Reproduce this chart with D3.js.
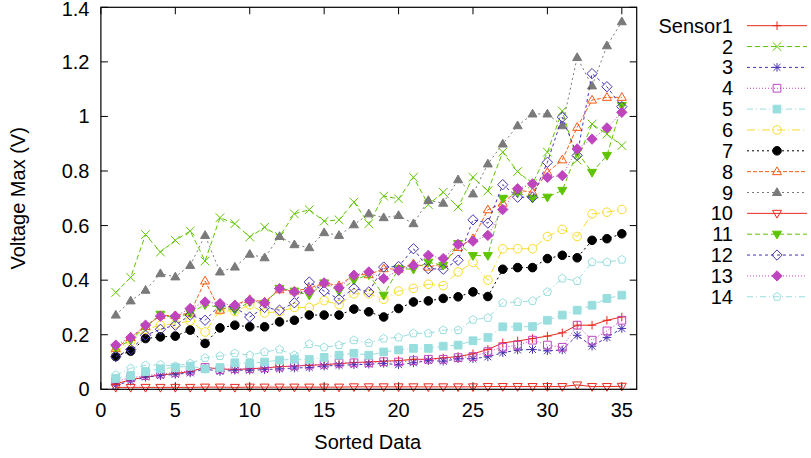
<!DOCTYPE html>
<html>
<head>
<meta charset="utf-8">
<script src="https://cdn.jsdelivr.net/npm/d3@7/dist/d3.min.js"></script>
<style>
  body { margin: 0; background: #fff; }
  svg text { font-family: 'Liberation Sans', Arial, sans-serif; font-size: 20px; fill: #000; }
</style>
</head>
<body>
<div id="chart"></div>
<script>
// sorted sample index 1..35
const positions = d3.range(1, 36);

const sensor1 = [0.02, 0.035, 0.045, 0.052, 0.058, 0.065, 0.08, 0.075, 0.072, 0.075, 0.078, 0.083, 0.085, 0.088, 0.09, 0.094, 0.098, 0.1, 0.103, 0.105, 0.11, 0.11, 0.115, 0.12, 0.13, 0.146, 0.17, 0.177, 0.186, 0.195, 0.207, 0.235, 0.235, 0.253, 0.265];
const sensor2 = [0.355, 0.41, 0.567, 0.503, 0.546, 0.58, 0.47, 0.629, 0.607, 0.558, 0.594, 0.56, 0.643, 0.658, 0.616, 0.621, 0.686, 0.607, 0.708, 0.698, 0.777, 0.677, 0.722, 0.668, 0.777, 0.727, 0.869, 0.798, 0.753, 0.869, 1.02, 0.84, 0.972, 0.935, 0.893];
const sensor3 = [0.015, 0.03, 0.045, 0.05, 0.055, 0.06, 0.075, 0.065, 0.07, 0.07, 0.072, 0.075, 0.078, 0.08, 0.085, 0.088, 0.09, 0.092, 0.095, 0.09, 0.097, 0.105, 0.103, 0.112, 0.112, 0.119, 0.134, 0.144, 0.146, 0.141, 0.144, 0.198, 0.158, 0.19, 0.223];
const sensor4 = [0.03, 0.042, 0.05, 0.056, 0.062, 0.067, 0.08, 0.072, 0.076, 0.076, 0.079, 0.082, 0.086, 0.089, 0.092, 0.096, 0.097, 0.097, 0.101, 0.1, 0.105, 0.11, 0.11, 0.116, 0.12, 0.138, 0.154, 0.162, 0.18, 0.162, 0.154, 0.235, 0.18, 0.214, 0.253];
const sensor5 = [0.04, 0.05, 0.065, 0.075, 0.08, 0.085, 0.075, 0.08, 0.097, 0.095, 0.1, 0.107, 0.11, 0.11, 0.117, 0.125, 0.132, 0.125, 0.137, 0.144, 0.15, 0.15, 0.158, 0.162, 0.178, 0.19, 0.229, 0.229, 0.23, 0.253, 0.272, 0.29, 0.308, 0.333, 0.345];
const sensor6 = [0.135, 0.175, 0.22, 0.235, 0.24, 0.25, 0.21, 0.29, 0.285, 0.31, 0.28, 0.285, 0.3, 0.3, 0.325, 0.31, 0.35, 0.35, 0.33, 0.36, 0.37, 0.385, 0.38, 0.43, 0.465, 0.4, 0.515, 0.515, 0.515, 0.56, 0.586, 0.56, 0.643, 0.649, 0.659];
const sensor7 = [0.12, 0.14, 0.186, 0.192, 0.195, 0.217, 0.168, 0.225, 0.235, 0.229, 0.229, 0.247, 0.253, 0.272, 0.272, 0.272, 0.294, 0.284, 0.265, 0.296, 0.32, 0.324, 0.333, 0.339, 0.357, 0.34, 0.44, 0.446, 0.446, 0.479, 0.491, 0.482, 0.546, 0.552, 0.57];
const sensor8 = [0.15, 0.19, 0.23, 0.27, 0.27, 0.28, 0.397, 0.29, 0.31, 0.329, 0.32, 0.365, 0.36, 0.37, 0.39, 0.38, 0.42, 0.42, 0.442, 0.44, 0.46, 0.448, 0.46, 0.52, 0.552, 0.658, 0.682, 0.73, 0.722, 0.795, 0.841, 0.96, 1.06, 1.07, 1.07];
const sensor9 = [0.272, 0.324, 0.363, 0.424, 0.412, 0.454, 0.564, 0.43, 0.448, 0.495, 0.482, 0.56, 0.53, 0.519, 0.574, 0.564, 0.603, 0.643, 0.629, 0.637, 0.607, 0.692, 0.682, 0.768, 0.716, 0.826, 0.899, 0.966, 1.009, 1.009, 0.966, 1.216, 1.112, 1.259, 1.347];
const sensor10 = [0.007, 0.007, 0.007, 0.007, 0.007, 0.007, 0.008, 0.008, 0.007, 0.008, 0.008, 0.008, 0.008, 0.008, 0.008, 0.008, 0.009, 0.009, 0.009, 0.009, 0.009, 0.009, 0.009, 0.009, 0.009, 0.01, 0.01, 0.01, 0.01, 0.01, 0.01, 0.016, 0.01, 0.01, 0.011];
const sensor11 = [0.15, 0.18, 0.23, 0.275, 0.26, 0.28, 0.31, 0.3, 0.29, 0.32, 0.315, 0.37, 0.36, 0.345, 0.39, 0.36, 0.4, 0.42, 0.345, 0.442, 0.44, 0.466, 0.454, 0.534, 0.49, 0.49, 0.7, 0.72, 0.7, 0.704, 0.729, 0.87, 0.795, 0.857, 1.04];
const sensor12 = [0.12, 0.146, 0.198, 0.22, 0.235, 0.272, 0.253, 0.308, 0.3, 0.265, 0.3, 0.29, 0.317, 0.393, 0.36, 0.33, 0.37, 0.357, 0.448, 0.45, 0.515, 0.442, 0.44, 0.473, 0.621, 0.609, 0.75, 0.704, 0.704, 0.832, 0.997, 0.857, 1.157, 1.109, 1.036];
const sensor13 = [0.162, 0.19, 0.235, 0.268, 0.268, 0.296, 0.32, 0.314, 0.308, 0.325, 0.317, 0.369, 0.357, 0.36, 0.39, 0.372, 0.418, 0.43, 0.406, 0.436, 0.454, 0.491, 0.479, 0.531, 0.543, 0.564, 0.659, 0.735, 0.753, 0.777, 0.783, 0.881, 0.917, 0.958, 1.015];
const sensor14 = [0.052, 0.077, 0.088, 0.09, 0.085, 0.095, 0.115, 0.122, 0.132, 0.125, 0.137, 0.146, 0.125, 0.166, 0.154, 0.162, 0.18, 0.17, 0.186, 0.19, 0.205, 0.205, 0.217, 0.217, 0.255, 0.262, 0.317, 0.32, 0.324, 0.357, 0.406, 0.397, 0.466, 0.466, 0.475];

const seriesNames = ['Sensor1', '2', '3', '4', '5', '6', '7', '8', '9', '10', '11', '12', '13', '14'];
const xTicks = [0, 5, 10, 15, 20, 25, 30, 35];
const yTicks = [0, 0.2, 0.4, 0.6, 0.8, 1, 1.2, 1.4];

const seriesValues = [sensor1, sensor2, sensor3, sensor4, sensor5, sensor6, sensor7,
  sensor8, sensor9, sensor10, sensor11, sensor12, sensor13, sensor14];

// gnuplot-ish line types
const colors = ['#e8281c', '#5fc400', '#4b32b4', '#bf45bf', '#99dede', '#f6dd2a', '#000000',
  '#f65a16', '#7a7a7a', '#e8281c', '#5fc400', '#4b32b4', '#bf45bf', '#99dede'];
const dashes = [null, '5,3', '3,3', '1,2', '6,3,1,3', '8,3,1,3', '2,3',
  '4,2', '2,3', null, '5,3', '3,3', '1,2', '6,3,1,3'];
const shapes = ['plus', 'cross', 'star', 'square', 'square', 'circle', 'circle',
  'triUp', 'triUp', 'triDown', 'triDown', 'diamond', 'diamond', 'pentagon'];
const filled = [false, false, false, false, true, false, true,
  false, true, false, true, false, true, false];

const width = 811;
const height = 458;
const plot = { left: 100.9, right: 636.7, top: 7.3, bottom: 389.3 };

const x = d3.scaleLinear().domain([0, 36]).range([plot.left, plot.right]);
const y = d3.scaleLinear().domain([0, 1.4]).range([plot.bottom, plot.top]);

const markerPath = (shape, r) => {
  switch (shape) {
    case 'plus': return `M${-r},0H${r}M0,${-r}V${r}`;
    case 'cross': return `M${-r},${-r}L${r},${r}M${-r},${r}L${r},${-r}`;
    case 'star': return `M${-r},0H${r}M0,${-r}V${r}M${-r * 0.8},${-r * 0.8}L${r * 0.8},${r * 0.8}M${-r * 0.8},${r * 0.8}L${r * 0.8},${-r * 0.8}`;
    case 'square': return `M${-r * 0.9},${-r * 0.9}H${r * 0.9}V${r * 0.9}H${-r * 0.9}Z`;
    case 'circle': {
      const p = d3.path();
      p.arc(0, 0, r, 0, 2 * Math.PI);
      p.closePath();
      return p.toString();
    }
    case 'triUp': return `M0,${-r * 1.1}L${r * 1.05},${r * 0.7}L${-r * 1.05},${r * 0.7}Z`;
    case 'triDown': return `M0,${r * 1.1}L${r * 1.05},${-r * 0.7}L${-r * 1.05},${-r * 0.7}Z`;
    case 'diamond': return `M0,${-r * 1.2}L${r * 1.2},0L0,${r * 1.2}L${-r * 1.2},0Z`;
    case 'pentagon': {
      const pts = d3.range(5).map(k => {
        const a = -Math.PI / 2 + k * 2 * Math.PI / 5;
        return [r * Math.cos(a), r * Math.sin(a)];
      });
      return `M${pts.map(p => p.join(',')).join('L')}Z`;
    }
    default: return '';
  }
};

const svg = d3.select('#chart').append('svg')
  .attr('width', width)
  .attr('height', height)
  .style('display', 'block');

svg.append('rect').attr('width', width).attr('height', height).attr('fill', '#fff');

// ticks (inward, mirrored)
const tickLen = 7;
const ticks = svg.append('g').attr('stroke', '#000').attr('stroke-width', 1);
xTicks.forEach(t => {
  ticks.append('line').attr('x1', x(t)).attr('x2', x(t)).attr('y1', plot.bottom).attr('y2', plot.bottom - tickLen);
  ticks.append('line').attr('x1', x(t)).attr('x2', x(t)).attr('y1', plot.top).attr('y2', plot.top + tickLen);
});
yTicks.forEach(t => {
  ticks.append('line').attr('x1', plot.left).attr('x2', plot.left + tickLen).attr('y1', y(t)).attr('y2', y(t));
  ticks.append('line').attr('x1', plot.right).attr('x2', plot.right - tickLen).attr('y1', y(t)).attr('y2', y(t));
});

svg.append('g').selectAll('text')
  .data(xTicks)
  .join('text')
    .attr('x', d => x(d))
    .attr('y', 417)
    .attr('text-anchor', 'middle')
    .text(d => d);

svg.append('g').selectAll('text')
  .data(yTicks)
  .join('text')
    .attr('x', 89.5)
    .attr('y', d => Math.max(y(d) + 7, 15.5))
    .attr('text-anchor', 'end')
    .text(d => d);

svg.append('text')
  .attr('x', 367.7)
  .attr('y', 449.3)
  .attr('text-anchor', 'middle')
  .text('Sorted Data');

svg.append('text')
  .attr('transform', `translate(25,${(plot.top + plot.bottom) / 2}) rotate(-90)`)
  .attr('text-anchor', 'middle')
  .text('Voltage Max (V)');

// series
const line = d3.line()
  .x((d, i) => x(positions[i]))
  .y(d => y(d));

const markerR = 4.3;

seriesValues.forEach((values, k) => {
  const g = svg.append('g');
  g.append('path')
    .datum(values)
    .attr('fill', 'none')
    .attr('stroke', colors[k])
    .attr('stroke-width', 1)
    .attr('stroke-dasharray', dashes[k])
    .attr('d', line);
  g.selectAll('path.pt')
    .data(values)
    .join('path')
      .attr('class', 'pt')
      .attr('transform', (d, i) => `translate(${x(positions[i])},${y(d)})`)
      .attr('d', markerPath(shapes[k], markerR))
      .attr('fill', filled[k] ? colors[k] : 'none')
      .attr('stroke', colors[k])
      .attr('stroke-width', 1);
});

// frame
svg.append('rect')
  .attr('x', plot.left)
  .attr('y', plot.top)
  .attr('width', plot.right - plot.left)
  .attr('height', plot.bottom - plot.top)
  .attr('fill', 'none')
  .attr('stroke', '#000')
  .attr('stroke-width', 1.2);

// legend
const legend = svg.append('g');
seriesNames.forEach((name, k) => {
  const ly = 25.7 + k * 20.85;
  legend.append('text')
    .attr('x', 733)
    .attr('y', ly + 7)
    .attr('text-anchor', 'end')
    .text(name);
  legend.append('line')
    .attr('x1', 747).attr('x2', 807)
    .attr('y1', ly).attr('y2', ly)
    .attr('stroke', colors[k])
    .attr('stroke-width', 1)
    .attr('stroke-dasharray', dashes[k]);
  legend.append('path')
    .attr('transform', `translate(777,${ly})`)
    .attr('d', markerPath(shapes[k], markerR))
    .attr('fill', filled[k] ? colors[k] : 'none')
    .attr('stroke', colors[k])
    .attr('stroke-width', 1);
});
</script>
</body>
</html>
